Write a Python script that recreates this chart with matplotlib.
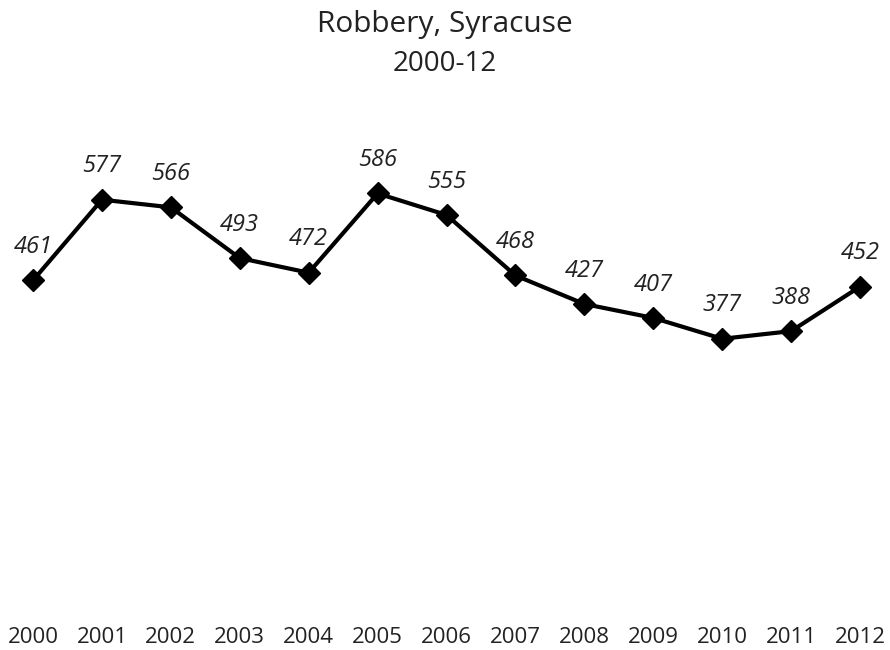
#!/usr/bin/env python3
import matplotlib
matplotlib.use("Agg")
import matplotlib.pyplot as plt

years = ["2000", "2001", "2002", "2003", "2004", "2005", "2006",
         "2007", "2008", "2009", "2010", "2011", "2012"]
robberies = [461, 577, 566, 493, 472, 586, 555, 468, 427, 407, 377, 388, 452]

plt.rcParams["font.family"] = ["Open Sans", "DejaVu Sans"]

fig = plt.figure(figsize=(8.9, 6.5), dpi=100)
ax = fig.add_axes([0.0, 0.0754, 1.0, 0.749])

xs = list(range(len(years)))
ax.plot(xs, robberies, color="black", linewidth=3.0, marker="D",
        markersize=11, markerfacecolor="black", markeredgecolor="black",
        solid_joinstyle="miter")

for x, v in zip(xs, robberies):
    ax.annotate(str(v), (x, v), xytext=(0, 24), textcoords="offset points",
                ha="center", va="center", fontsize=17, fontstyle="italic",
                color="#222222")

ax.set_xlim(-0.479, 12.435)
ax.set_ylim(0, 700)
ax.set_xticks(xs)
ax.set_xticklabels(years, fontsize=16, color="#222222")
ax.tick_params(axis="x", length=0, pad=19)
ax.set_yticks([])
for side in ax.spines.values():
    side.set_visible(False)

fig.text(0.5, 0.963, "Robbery, Syracuse", ha="center", va="center",
         fontsize=21.5, color="#222222")
fig.text(0.5, 0.902, "2000-12", ha="center", va="center",
         fontsize=20, color="#222222")

fig.savefig("out.png", dpi=100)
